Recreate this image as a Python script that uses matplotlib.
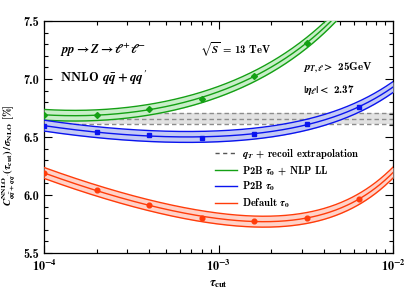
import numpy as np
import matplotlib
matplotlib.use("Agg")
import matplotlib.pyplot as plt
from matplotlib.ticker import MultipleLocator, LogLocator, NullFormatter, FuncFormatter

plt.rcParams['mathtext.fontset'] = 'custom'
plt.rcParams['mathtext.it'] = 'STIXGeneral:italic:bold'
plt.rcParams['mathtext.rm'] = 'STIXGeneral:bold'
plt.rcParams['mathtext.bf'] = 'STIXGeneral:bold'
plt.rcParams['mathtext.cal'] = 'STIXGeneral:italic:bold'
plt.rcParams['mathtext.fallback'] = 'stix'
plt.rcParams['mathtext.default'] = 'it'
plt.rcParams['font.family'] = ['cmb10', 'STIXGeneral', 'DejaVu Serif']
plt.rcParams['axes.unicode_minus'] = False

# ---- data ----
tau = [1e-4, 2e-4, 4e-4, 8e-4, 1.6e-3, 3.2e-3, 6.4e-3]
green_vals = [6.69, 6.69, 6.74, 6.83, 7.03, 7.31]          # P2B tau0 + NLP LL
blue_vals = [6.595, 6.546, 6.515, 6.49, 6.53, 6.61, 6.76]  # P2B tau0
red_vals = [6.187, 6.043, 5.917, 5.804, 5.776, 5.804, 5.965]  # Default tau0
band_half = [0.046, 0.047, 0.047]                          # fit band half widths
qt_center = 6.656
qt_lo = 6.612
qt_hi = 6.704

series_labels = [r'P2B $\tau_0$ + NLP LL', r'P2B $\tau_0$', r'Default $\tau_0$']
qt_label = r'$q_T$ + recoil extrapolation'
colors = ['#14a014', '#0a14ee', '#ff3c0a']
fills = ['#c8eec8', '#c4caf4', '#ffd2c8']
markers = ['D', 's', 'o']
msizes = [3.0, 3.4, 3.4]


def basis(t):
    L = np.log10(t)
    return np.column_stack([np.ones_like(t), L, L**2, t])


W, H = 407, 295
fig = plt.figure(figsize=(W/100, H/100), dpi=100)
ax = fig.add_axes([44/W, 1-253/H, 349/W, 232/H])
ax.set_xscale('log')
ax.set_xlim(1e-4, 1e-2)
ax.set_ylim(5.5, 7.5)

# qT band
ax.axhspan(qt_lo, qt_hi, color='#e2e2e2', zorder=1, lw=0)
for yv in (qt_lo, qt_center, qt_hi):
    ax.axhline(yv, color='#8c8c8c', ls=(0, (3.2, 2.2)), lw=1.0, zorder=2)

xs = np.logspace(-4, -2, 300)
handles = []
for vals, col, fc, mk, ms, hw, lab in zip([green_vals, blue_vals, red_vals], colors, fills,
                                           markers, msizes, band_half, series_labels):
    t = np.array(tau[:len(vals)])
    coef, *_ = np.linalg.lstsq(basis(t), np.array(vals), rcond=None)
    yc = basis(xs) @ coef
    ax.fill_between(xs, yc - hw, yc + hw, color=fc, lw=0, zorder=3)
    ax.plot(xs, yc + hw, color=col, lw=1.0, zorder=4)
    ax.plot(xs, yc - hw, color=col, lw=1.0, zorder=4)
    h, = ax.plot(xs, yc, color=col, lw=1.0, zorder=4, label=lab)
    ax.plot(t, vals, ls='none', marker=mk, ms=ms, color=col, zorder=5, clip_on=True)
    handles.append(h)

qh, = ax.plot([], [], color='#555555', ls=(0, (3, 2.5)), lw=1.0, label=qt_label)
leg = fig.legend(handles=[qh] + handles, loc='upper left',
                 bbox_to_anchor=(215/W, 1 - 147/H), bbox_transform=fig.transFigure,
                 frameon=False, fontsize=7.6, handlelength=2.05, handletextpad=0.47,
                 labelspacing=0.28, borderaxespad=0.0, borderpad=0.0)

# ticks
def xfmt(v, pos):
    e = int(round(np.log10(v)))
    return r'$\mathrm{10}^{\mathrm{%d}}$' % e

ax.yaxis.set_major_locator(MultipleLocator(0.5))
ax.yaxis.set_minor_locator(MultipleLocator(0.1))
ax.yaxis.set_major_formatter(matplotlib.ticker.FormatStrFormatter('%.1f'))
ax.xaxis.set_major_locator(LogLocator(base=10, numticks=10))
ax.xaxis.set_major_formatter(FuncFormatter(xfmt))
ax.xaxis.set_minor_locator(LogLocator(base=10, subs=np.arange(2, 10), numticks=10))
ax.xaxis.set_minor_formatter(NullFormatter())
ax.tick_params(which='both', direction='in', top=True, right=True, labelsize=8.8, width=0.8)
ax.tick_params(which='major', length=5.5)
ax.tick_params(which='minor', length=3)
ax.tick_params(axis='x', which='major', pad=4)
for sp in ax.spines.values():
    sp.set_linewidth(0.9)

ax.set_xlabel(r'$\tau_{\mathrm{cut}}$', fontsize=9, labelpad=3)
ax.set_ylabel(r"$\mathcal{C}^{\mathrm{NNLO}}_{q\bar{q}+qq'}(\tau_{\mathrm{cut}})\,/\,\sigma_{\mathrm{NLO}}$ [%]",
              fontsize=7.7, labelpad=2)
ax.yaxis.set_label_coords(-0.074, 0.422)

def ftext(x, y, s, **kw):
    fig.text(x/W, 1 - y/H, s, va='center', ha='left', **kw)

ftext(60, 50, r'$pp \rightarrow Z \rightarrow \ell^{+}\ell^{-}$', fontsize=9.2)
ftext(200, 50, r'$\sqrt{S}$ = 13 TeV', fontsize=7.8)
ftext(60, 78, r"NNLO $q\bar{q}+qq'$", fontsize=9.4)
ftext(303, 68, r'$p_{T,\ell}>$ 25GeV', fontsize=8)
ftext(303, 90, r'$|\eta_{\ell}|<$ 2.37', fontsize=8)

fig.savefig('out.png', dpi=100)
